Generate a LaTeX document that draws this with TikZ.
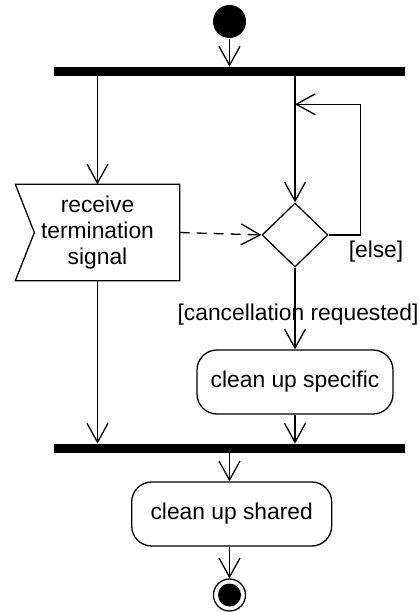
\documentclass[tikz,border=0pt]{standalone}
\usepackage{fontspec}
\setmainfont{Liberation Sans}
\usetikzlibrary{arrows.meta,shapes.geometric}

\begin{document}
\begin{tikzpicture}[x=1pt,y=-1pt,line width=1.3pt,
  every node/.style={font=\fontsize{22.8}{26}\selectfont},
  flow/.style={-{Straight Barb[length=19pt,width=21pt,line width=1.3pt]}},
  bar/.style={fill=black,inner sep=0pt,minimum width=351pt,minimum height=8.5pt},
  action/.style={draw,rounded corners=20pt,inner sep=0pt,minimum height=64pt}]
  \useasboundingbox (0,0) rectangle (419,612);
  % nodes
  \node[fill=black,circle,inner sep=0pt,minimum size=33pt] (start) at (229.5,21.5) {};
  \node[bar] (fork) at (229.5,71.5) {};
  \node[minimum width=163pt,minimum height=95pt,inner sep=0pt,align=center] (recv) at (97.5,232.5) {receive\\termination\\signal};
  \draw (recv.north west) -- (recv.north east) -- (recv.south east) -- (recv.south west)
    -- ([xshift=19pt]recv.west) -- cycle;
  \node[draw,diamond,minimum width=66pt,minimum height=64pt,inner sep=0pt] (dec) at (295,235) {};
  \node[action,minimum width=196pt] (spec) at (295,382) {clean up specific};
  \node[bar] (join) at (229.5,448.5) {};
  \node[action,minimum width=200pt] (shared) at (231.7,514) {clean up shared};
  \node[draw,circle,inner sep=0pt,minimum size=32pt] (stop) at (229.5,595) {};
  \node[fill=black,circle,inner sep=0pt,minimum size=23pt] (stopdot) at (stop) {};
  \node (elselbl) at (376,252) {[else]};
  \node (cancel) at (298,315) {[cancellation requested]};
  \coordinate (loop) at (360.7,104.3);
  \coordinate (merge) at (295,104.3);
  % connectors
  \draw[flow] (start) -- (fork.north);
  \draw[flow] (fork.south -| recv.north) -- (recv.north);
  \draw[flow] (recv.south) -- (recv.south |- join.north);
  \draw[flow] (fork.south -| dec.north) -- (dec.north);
  \draw[flow] (dec.east) -| (loop) -- (merge);
  \draw[flow,dash pattern=on 10pt off 7pt] (recv.east) -- (dec.west);
  \draw[flow] (dec.south) -- (spec.north);
  \draw[flow] (spec.south) -- (spec.south |- join.north);
  \draw[flow] (join.south) -- (join.south |- shared.north);
  \draw[flow] (stop |- shared.south) -- (stop.north);
\end{tikzpicture}
\end{document}
